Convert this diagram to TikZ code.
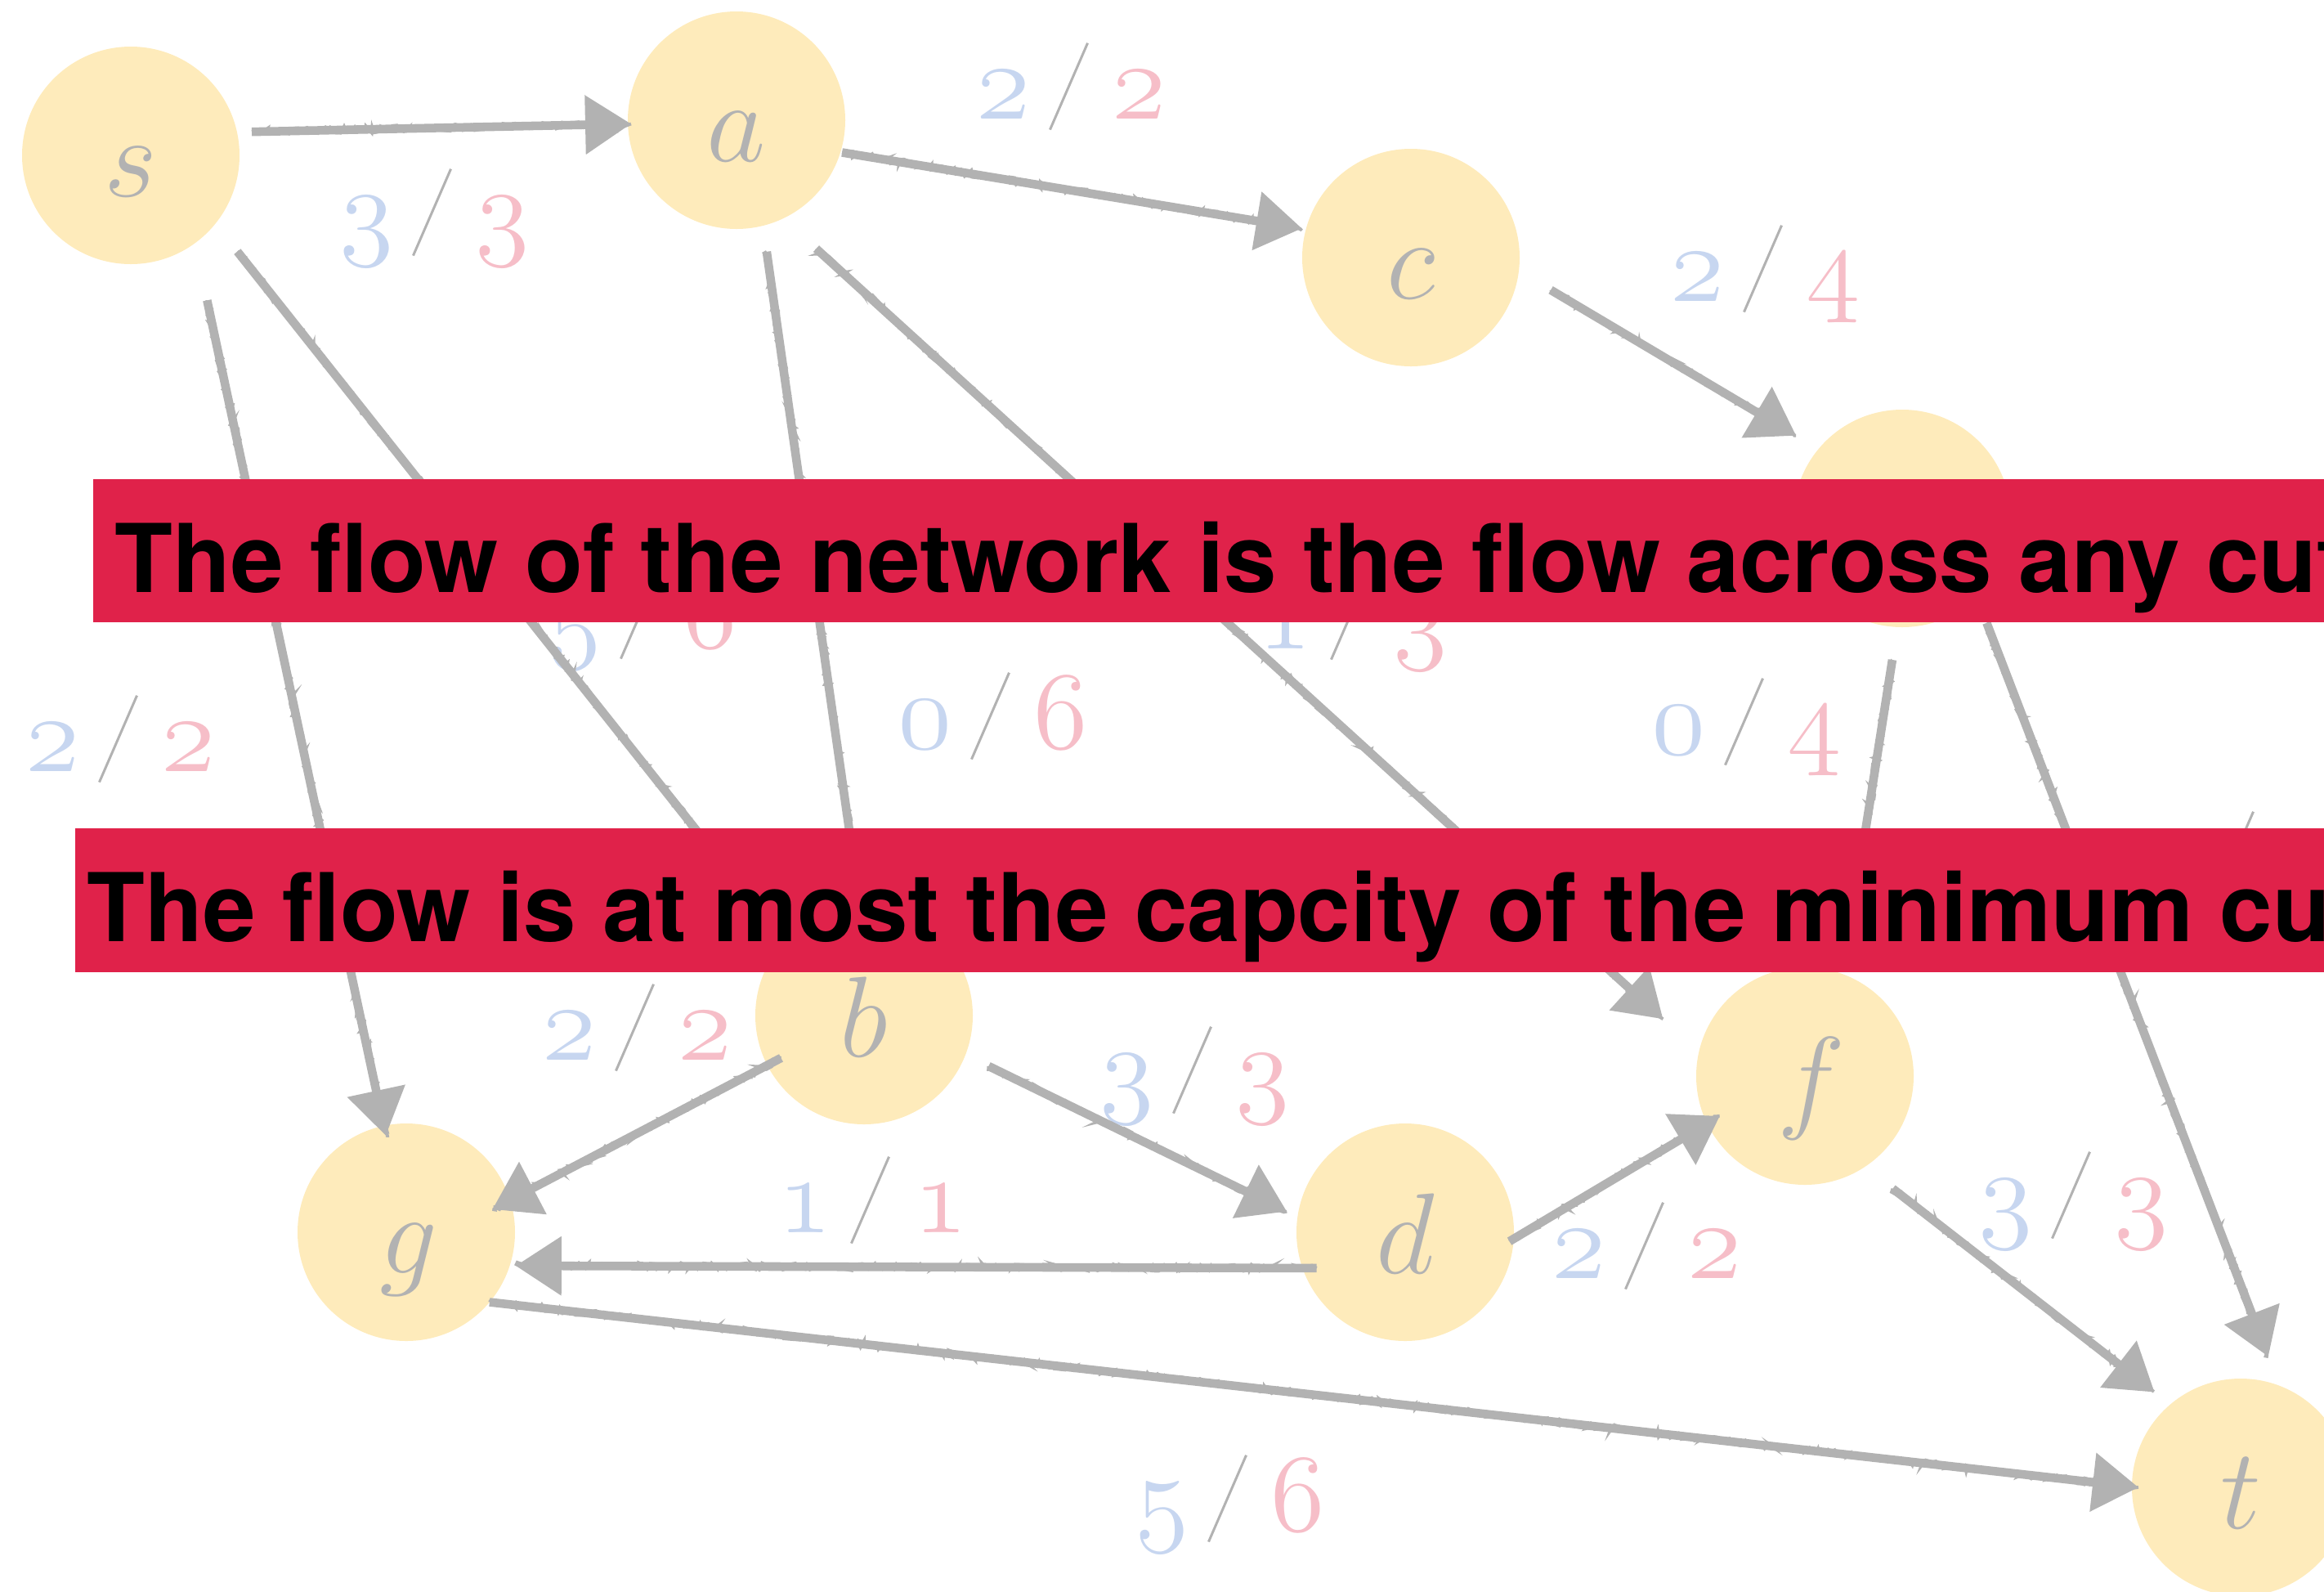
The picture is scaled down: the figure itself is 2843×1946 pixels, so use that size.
\RequirePackage{fix-cm}
\documentclass[tikz,border=0pt]{standalone}
\usepackage{fontspec}
\newfontfamily\bannerfont{TeX Gyre Heros}
\usetikzlibrary{arrows.meta,decorations.pathmorphing}

\definecolor{nodefill}{RGB}{254,235,187}
\definecolor{edgegray}{RGB}{178,178,178}
\definecolor{flowblue}{RGB}{199,214,240}
\definecolor{cappink}{RGB}{246,190,200}
\definecolor{bannerred}{RGB}{224,34,74}

% math italic (scalable through fix-cm), also giving old-style figures
\newcommand\mitfont{\usefont{OML}{cmm}{m}{it}}
\newcommand\osnum[1]{{\mitfont #1}}
% flow / capacity pair with a thin slanted separator
\newcommand\flowlabel[2]{%
  \textcolor{flowblue}{\osnum{#1}}\hspace{2.2mm}%
  \raisebox{-1.3mm}{\textcolor{edgegray}{\rotatebox{-23.5}{\rule{0.3mm}{11.55mm}}}}%
  \hspace{2.9mm}\textcolor{cappink}{\osnum{#2}}}

\begin{document}
\pgfmathsetseed{7}
\begin{tikzpicture}[x=0.1mm,y=-0.1mm,
  vertex/.style={circle, fill=nodefill, minimum size=26.6mm, inner sep=0pt,
    outer sep=0pt, text=edgegray, text height=12mm, text depth=2mm,
    font=\fontsize{40pt}{40pt}\mitfont},
  flow/.style={inner sep=0pt, anchor=base, font=\fontsize{38.5pt}{38.5pt}\selectfont},
  edge/.style={draw=edgegray, line width=3pt,
    -{Triangle[length=5.6mm,width=7mm]},
    postaction={draw=edgegray, line width=1.1pt, arrows=-, decorate,
      decoration={random steps, segment length=1.2pt, amplitude=1.2pt}}},
  bannertext/.style={anchor=base west, inner sep=0pt, text=black,
    font=\bannerfont\bfseries\fontsize{33pt}{33pt}\selectfont}]

\useasboundingbox (0,0) rectangle (2843,1946);
\clip (0,0) rectangle (2843,1946);

% vertices
\node[vertex] (s) at (160,190) {s};
\node[vertex] (a) at (901,147) {a};
\node[vertex] (c) at (1726,315) {c};
\node[vertex] (e) at (2327,634) {e};
\node[vertex] (b) at (1057,1242) {b};
\node[vertex] (f) at (2208,1316) {f};
\node[vertex] (g) at (497,1507) {g};
\node[vertex] (d) at (1719,1507) {d};
\node[vertex] (t) at (2741,1819) {t};

% flow / capacity labels
\node[flow] (l-sa) at (532,299)   {\flowlabel{3}{3}};
\node[flow] (l-ac) at (1311,145)  {\flowlabel{2}{2}};
\node[flow] (l-ce) at (2160,368)  {\flowlabel{2}{4}};
\node[flow] (l-sg) at (148,943)   {\flowlabel{2}{2}};
\node[flow] (l-sb) at (786,792)   {\flowlabel{5}{6}};
\node[flow] (l-ab) at (1215,915)  {\flowlabel{0}{6}};
\node[flow] (l-af) at (1655,793)  {\flowlabel{1}{3}};
\node[flow] (l-ef) at (2137,922)  {\flowlabel{0}{4}};
\node[flow] (l-et) at (2737,1085) {\flowlabel{2}{5}};
\node[flow] (l-bg) at (780,1296)  {\flowlabel{2}{2}};
\node[flow] (l-bd) at (1462,1348) {\flowlabel{3}{3}};
\node[flow] (l-dg) at (1068,1507) {\flowlabel{1}{1}};
\node[flow] (l-df) at (2015,1563) {\flowlabel{2}{2}};
\node[flow] (l-ft) at (2537,1501) {\flowlabel{3}{3}};
\node[flow] (l-gt) at (1505,1872) {\flowlabel{5}{6}};

% pencil-like arrows
\draw[edge] ([shift={(11.1:1.78mm)}]s.11.1) -- ([shift={(182.7:-0.39mm)}]a.182.7);
\draw[edge] ([shift={(-17.2:0.2mm)}]a.-17.2) -- ([shift={(165.8:0.5mm)}]c.165.8);
\draw[edge] ([shift={(-13.2:4.26mm)}]c.-13.2) -- ([shift={(142.2:3.16mm)}]e.142.2);
\draw[edge] ([shift={(-62.7:6.74mm)}]s.-62.7) -- ([shift={(102.4:-1.22mm)}]g.102.4);
\draw[edge] ([shift={(-42.2:4.26mm)}]s.-42.2) -- (b.137.8);
\draw[edge] ([shift={(-77.4:3.2mm)}]a.-77.4) -- (b.92.6);
\draw[edge] ([shift={(-58.7:5.19mm)}]a.-58.7) -- ([shift={(158.4:5.4mm)}]f.158.4);
\draw[edge] ([shift={(-94:4.04mm)}]e.-94) -- ([shift={(70.7:0.5mm)}]f.70.7);
\draw[edge] ([shift={(-51.2:3.13mm)}]e.-51.2) -- ([shift={(78.3:3.04mm)}]t.78.3);
\draw[edge] ([shift={(-153.4:-1.9mm)}]b.-153.4) -- ([shift={(15.4:-2.4mm)}]g.15.4);
\draw[edge] ([shift={(-22.5:3.15mm)}]b.-22.5) -- ([shift={(170.6:1.4mm)}]d.170.6);
\draw[edge] ([shift={(-158.5:-1.6mm)}]d.-158.5) -- ([shift={(-17.9:0.7mm)}]g.-17.9);
\draw[edge] ([shift={(-5.4:-0.5mm)}]d.-5.4) -- ([shift={(-155.9:-1.8mm)}]f.-155.9);
\draw[edge] ([shift={(-52.2:4.16mm)}]f.-52.2) -- ([shift={(132.9:2.4mm)}]t.132.9);
\draw[edge] (g.-40.7) -- ([shift={(180:-0.8mm)}]t.180);

% statement banners
\fill[bannerred] (114,586) rectangle (2843,761);
\node[bannertext] (cut-any) at (140,724) {The flow of the network is the flow across any cut};
\fill[bannerred] (92,1013) rectangle (2843,1189);
\node[bannertext] (cut-min) at (106,1151) {The flow is at most the capcity of the minimum cut};
\end{tikzpicture}
\end{document}
